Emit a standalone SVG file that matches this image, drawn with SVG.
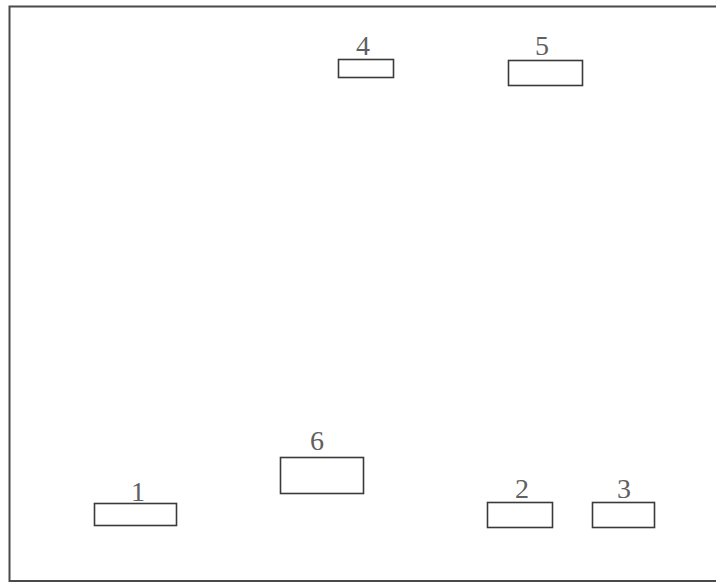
<svg xmlns="http://www.w3.org/2000/svg" width="716" height="584" viewBox="0 0 716 584">
<style>
.box{fill:none;stroke:#3a3a3a;stroke-width:1.6}
.lbl{font-family:"Liberation Serif","Times New Roman",serif;font-size:28px;fill:#606060;text-anchor:middle}
.frame{fill:none;stroke:#4a4a4a;stroke-width:2}
</style>
<rect width="716" height="584" fill="#ffffff"/>
<path class="frame" d="M716,6.5 L9.5,6.5 L9.5,581 L716,581"/>
<g id="node1"><rect class="box" x="94.5" y="503.5" width="82" height="22"/><text class="lbl" x="138" y="501">1</text></g>
<g id="node2"><rect class="box" x="487.5" y="502.5" width="65" height="25"/><text class="lbl" x="522" y="498">2</text></g>
<g id="node3"><rect class="box" x="592.5" y="502.5" width="62" height="25"/><text class="lbl" x="624" y="498">3</text></g>
<g id="node4"><rect class="box" x="338.5" y="59.5" width="55" height="18"/><text class="lbl" x="363" y="55">4</text></g>
<g id="node5"><rect class="box" x="508.5" y="60.5" width="74" height="25"/><text class="lbl" x="542" y="55">5</text></g>
<g id="node6"><rect class="box" x="280.5" y="457.5" width="83" height="36"/><text class="lbl" x="317" y="450">6</text></g>
<g id="connectors"></g>
</svg>
